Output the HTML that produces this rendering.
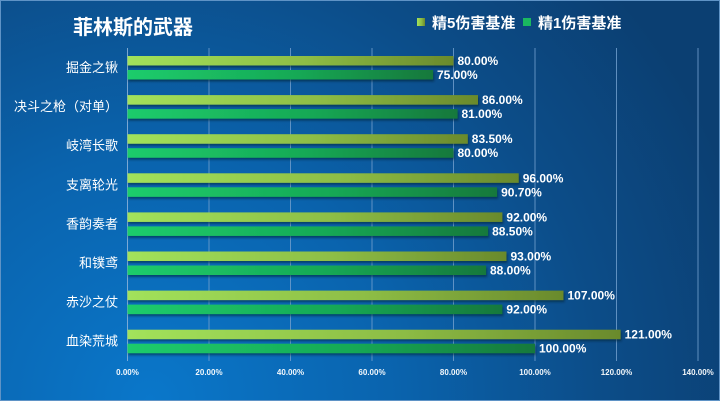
<!DOCTYPE html>
<html><head><meta charset="utf-8"><style>
html,body{margin:0;padding:0;width:720px;height:401px;overflow:hidden;background:#0b4a85;}
svg{display:block;}
text{font-family:"Liberation Sans","Noto Sans CJK SC",sans-serif;fill:#fff;}
</style></head><body>
<svg width="720" height="401" viewBox="0 0 720 401" xmlns="http://www.w3.org/2000/svg">
<defs>
<radialGradient id="bg" cx="150" cy="400" r="620" gradientUnits="userSpaceOnUse">
<stop offset="0" stop-color="#0a77ca"/>
<stop offset="0.4" stop-color="#0a63ad"/>
<stop offset="0.72" stop-color="#0c4d89"/>
<stop offset="1" stop-color="#0b3f72"/>
</radialGradient>
<linearGradient id="g5" x1="0" y1="0" x2="1" y2="0">
<stop offset="0" stop-color="#a2e25b"/>
<stop offset="0.55" stop-color="#8dbd45"/>
<stop offset="1" stop-color="#6a8a2c"/>
</linearGradient>
<linearGradient id="g1" x1="0" y1="0" x2="1" y2="0">
<stop offset="0" stop-color="#1dcc6c"/>
<stop offset="0.55" stop-color="#17a955"/>
<stop offset="1" stop-color="#12783c"/>
</linearGradient>
<filter id="sh" x="-5%" y="-50%" width="110%" height="200%">
<feDropShadow dx="1" dy="2" stdDeviation="1" flood-color="#001a33" flood-opacity="0.55"/>
</filter>
</defs>
<rect x="0" y="0" width="720" height="401" fill="url(#bg)"/>
<rect x="0.5" y="0.5" width="719" height="400" fill="none" stroke="#5f93c6" stroke-width="1"/>

<!-- title -->
<text x="73" y="34" font-size="20" font-weight="bold">菲林斯的武器</text>

<!-- legend -->
<rect x="417" y="18" width="8" height="8" fill="url(#g5)"/>
<text x="432" y="28" font-size="15" font-weight="bold">精5伤害基准</text>
<rect x="523" y="18" width="8" height="8" fill="#1ab860"/>
<text x="538" y="28" font-size="15" font-weight="bold">精1伤害基准</text>

<!-- gridlines -->
<g stroke="#6f9ccb" stroke-width="1" stroke-opacity="0.85">
<line x1="127.5" y1="48" x2="127.5" y2="361" stroke="#8fb4da"/>
<line x1="209" y1="48" x2="209" y2="361"/>
<line x1="290.5" y1="48" x2="290.5" y2="361"/>
<line x1="372" y1="48" x2="372" y2="361"/>
<line x1="453.5" y1="48" x2="453.5" y2="361"/>
<line x1="535" y1="48" x2="535" y2="361"/>
<line x1="616.5" y1="48" x2="616.5" y2="361"/>
<line x1="698" y1="48" x2="698" y2="361"/>
</g>

<!-- bars -->
<g filter="url(#sh)">
<rect x="127.5" y="56" width="326" height="9.5" fill="url(#g5)"/>
<rect x="127.5" y="70" width="305.6" height="9.5" fill="url(#g1)"/>
<rect x="127.5" y="95.1" width="350.5" height="9.5" fill="url(#g5)"/>
<rect x="127.5" y="109.1" width="330.1" height="9.5" fill="url(#g1)"/>
<rect x="127.5" y="134.2" width="340.3" height="9.5" fill="url(#g5)"/>
<rect x="127.5" y="148.2" width="326" height="9.5" fill="url(#g1)"/>
<rect x="127.5" y="173.3" width="391.2" height="9.5" fill="url(#g5)"/>
<rect x="127.5" y="187.3" width="369.6" height="9.5" fill="url(#g1)"/>
<rect x="127.5" y="212.4" width="374.9" height="9.5" fill="url(#g5)"/>
<rect x="127.5" y="226.4" width="360.6" height="9.5" fill="url(#g1)"/>
<rect x="127.5" y="251.5" width="379" height="9.5" fill="url(#g5)"/>
<rect x="127.5" y="265.5" width="358.6" height="9.5" fill="url(#g1)"/>
<rect x="127.5" y="290.6" width="436" height="9.5" fill="url(#g5)"/>
<rect x="127.5" y="304.6" width="374.9" height="9.5" fill="url(#g1)"/>
<rect x="127.5" y="329.7" width="493.1" height="9.5" fill="url(#g5)"/>
<rect x="127.5" y="343.7" width="407.5" height="9.5" fill="url(#g1)"/>
</g>

<!-- value labels -->
<g font-size="12" font-weight="bold">
<text x="457.5" y="65">80.00%</text>
<text x="437" y="79">75.00%</text>
<text x="482" y="104.1">86.00%</text>
<text x="461.5" y="118.1">81.00%</text>
<text x="471.8" y="143.2">83.50%</text>
<text x="457.5" y="157.2">80.00%</text>
<text x="522.7" y="182.3">96.00%</text>
<text x="501.1" y="196.3">90.70%</text>
<text x="506.4" y="221.4">92.00%</text>
<text x="492.1" y="235.4">88.50%</text>
<text x="510.5" y="260.5">93.00%</text>
<text x="490" y="274.5">88.00%</text>
<text x="567.5" y="299.6">107.00%</text>
<text x="506.4" y="313.6">92.00%</text>
<text x="624.6" y="338.7">121.00%</text>
<text x="539" y="352.7">100.00%</text>
</g>

<!-- category labels -->
<g font-size="13" text-anchor="end">
<text x="118" y="72">掘金之锹</text>
<text x="118" y="111.1">决斗之枪（对单）</text>
<text x="118" y="150.2">岐湾长歌</text>
<text x="118" y="189.3">支离轮光</text>
<text x="118" y="228.4">香韵奏者</text>
<text x="118" y="267.5">和镤鸢</text>
<text x="118" y="306.6">赤沙之仗</text>
<text x="118" y="345.7">血染荒城</text>
</g>

<!-- axis tick labels -->
<g font-size="8" font-weight="bold" text-anchor="middle" fill-opacity="0.95">
<text x="127.5" y="375">0.00%</text>
<text x="209" y="375">20.00%</text>
<text x="290.5" y="375">40.00%</text>
<text x="372" y="375">60.00%</text>
<text x="453.5" y="375">80.00%</text>
<text x="535" y="375">100.00%</text>
<text x="616.5" y="375">120.00%</text>
<text x="698" y="375">140.00%</text>
</g>
</svg>
</body></html>
